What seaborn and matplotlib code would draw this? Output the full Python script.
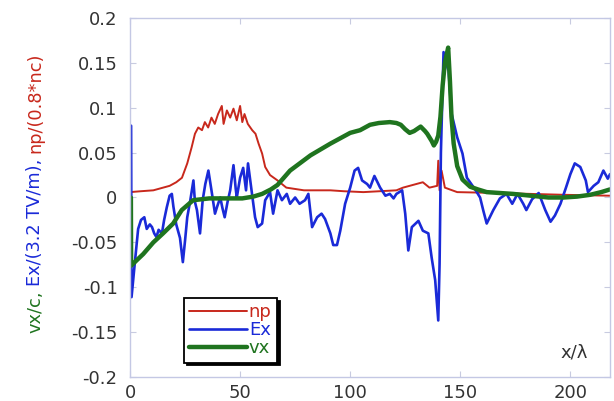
import numpy as np
import pandas as pd
import matplotlib
matplotlib.use("Agg")
import matplotlib.pyplot as plt
import seaborn as sns

# ---------------- data ----------------
np_x = [0, 5, 10.6, 18, 21, 23.6, 26, 28, 29.5, 31, 32.7, 34, 35.5, 37, 38.5, 40, 41.7, 42.5,
        44, 45.5, 47, 48.5, 50, 51, 52, 53.5, 55.5, 57, 58.4, 60, 61.4, 63.6, 67, 71, 79,
        91, 97, 106, 121, 124, 127, 130, 133, 136, 139.5, 140, 140.6, 141.5, 142.3, 143,
        148.6, 167, 197, 218]
np_y = [0.006, 0.007, 0.008, 0.013, 0.017, 0.022, 0.038, 0.056, 0.071, 0.078, 0.075, 0.084,
        0.078, 0.089, 0.082, 0.093, 0.102, 0.082, 0.097, 0.089, 0.099, 0.086, 0.102, 0.084,
        0.093, 0.082, 0.075, 0.071, 0.060, 0.049, 0.034, 0.025, 0.019, 0.011, 0.008, 0.008,
        0.007, 0.006, 0.008, 0.011, 0.013, 0.015, 0.017, 0.011, 0.013, 0.041, 0.008, 0.030,
        0.020, 0.011, 0.006, 0.005, 0.003, 0.002]

ex_x = [0.5, 0.7, 1.5, 2.3, 3.7, 5, 6.5, 7.6, 9, 10, 11, 12, 13, 14.5, 15.5, 16.7, 18, 19,
        19.7, 21, 22.7, 24, 25, 26, 27.4, 28.8, 29.5, 30.4, 31.8, 33, 34.2, 35.6, 37, 38.6,
        39.6, 41, 42, 43, 44.3, 45.5, 47, 48, 48.5, 50, 51.4, 52.7, 53.6, 55.4, 56.8, 58, 60,
        61.4, 63.6, 65, 67, 69, 71.2, 72.7, 75, 77, 79.5, 81, 82.7, 85, 87, 88.6, 91, 92.3,
        94, 95.5, 97.7, 100, 102, 103.6, 105.4, 107.7, 109, 111, 113.6, 116, 118, 119.7,
        121, 123.6, 125, 126.4, 128, 131, 133, 135.5, 137, 138.6, 140, 140.6, 141.2, 142.4,
        143.5, 144.7, 146, 148.6, 151, 153, 157, 159, 160.5, 162, 165, 168, 171, 173.6, 176,
        178.6, 180, 182.6, 185.6, 188.6, 191, 193, 195.5, 198, 200, 202, 204.5, 207, 208,
        210.6, 212.7, 215, 217, 218]
ex_y = [0.080, -0.111, -0.090, -0.070, -0.035, -0.025, -0.022, -0.035, -0.030, -0.033,
        -0.040, -0.044, -0.036, -0.040, -0.025, -0.011, 0.002, 0.004, -0.010, -0.030,
        -0.045, -0.072, -0.048, -0.022, -0.003, 0.019, -0.005, -0.014, -0.040, -0.003,
        0.015, 0.030, 0.008, -0.018, -0.010, 0.000, -0.012, -0.022, -0.005, 0.008, 0.036,
        0.010, 0.000, 0.022, 0.033, 0.008, 0.038, 0.004, -0.022, -0.033, -0.029, -0.003,
        0.006, -0.018, 0.008, -0.003, 0.004, -0.007, 0.000, -0.007, -0.003, 0.004, -0.033,
        -0.022, -0.018, -0.024, -0.040, -0.053, -0.053, -0.037, -0.007, 0.011, 0.030, 0.033,
        0.019, 0.015, 0.011, 0.024, 0.011, 0.002, 0.004, -0.001, 0.004, 0.008, -0.018,
        -0.059, -0.033, -0.026, -0.037, -0.040, -0.067, -0.092, -0.137, -0.074, 0.050,
        0.162, 0.150, 0.141, 0.094, 0.067, 0.049, 0.022, 0.008, 0.000, -0.015, -0.029,
        -0.014, -0.001, 0.004, -0.007, 0.004, -0.007, -0.014, -0.002, 0.005, -0.014,
        -0.027, -0.020, -0.007, 0.011, 0.026, 0.038, 0.034, 0.019, 0.006, 0.013, 0.017,
        0.030, 0.021, 0.026]

vx_x = [0.4, 0.5, 3, 6, 10.6, 15, 19.6, 23.5, 28.7, 36, 45, 51, 56, 60, 64, 67, 72.7, 82,
        91, 100, 104.5, 109, 113, 118, 121, 123, 125, 127, 129, 132, 134, 135, 137, 138,
        139, 140, 141, 142, 143, 144.5, 145.3, 146, 147, 148.6, 151, 154.5, 158, 162, 168,
        174, 182, 190, 197, 203, 209, 214, 218]
vx_y = [0.0, -0.076, -0.070, -0.063, -0.050, -0.040, -0.029, -0.014, -0.003, -0.001,
        -0.001, -0.001, 0.001, 0.004, 0.009, 0.014, 0.030, 0.047, 0.060, 0.072, 0.075,
        0.081, 0.083, 0.084, 0.083, 0.081, 0.076, 0.072, 0.074, 0.079, 0.074, 0.071, 0.063,
        0.058, 0.062, 0.069, 0.090, 0.125, 0.150, 0.167, 0.130, 0.090, 0.060, 0.035, 0.020,
        0.012, 0.009, 0.006, 0.005, 0.004, 0.002, 0.000, 0.000, 0.001, 0.003, 0.006, 0.009]

series_names = ["np", "Ex", "vx"]
x_ticks = [0, 50, 100, 150, 200]
y_ticks = [-0.2, -0.15, -0.1, -0.05, 0, 0.05, 0.1, 0.15, 0.2]
y_tick_labels = ["-0.2", "-0.15", "-0.1", "-0.05", "0", "0.05", "0.1", "0.15", "0.2"]

RED, BLUE, GREEN = "#c8281c", "#1a2ad8", "#1f741f"

# ---------------- plotting ----------------
sns.set_theme(style="white")
plt.rcParams["font.family"] = ["DejaVu Sans"]

fig = plt.figure(figsize=(6.14, 4.01), dpi=100)
ax = fig.add_axes([130 / 614, 1 - 377 / 401, 480 / 614, 359 / 401])

df_np = pd.DataFrame({"x": np_x, "y": np_y})
df_ex = pd.DataFrame({"x": ex_x, "y": ex_y})
df_vx = pd.DataFrame({"x": vx_x, "y": vx_y})

sns.lineplot(data=df_np, x="x", y="y", ax=ax, color=RED, lw=1.4, estimator=None,
             sort=False, label=series_names[0])
sns.lineplot(data=df_ex, x="x", y="y", ax=ax, color=BLUE, lw=1.9, estimator=None,
             sort=False, label=series_names[1])
sns.lineplot(data=df_vx, x="x", y="y", ax=ax, color=GREEN, lw=3.2, estimator=None,
             sort=False, label=series_names[2])

ax.set_xlim(0, 218)
ax.set_ylim(-0.2, 0.2)
ax.set_xticks(x_ticks)
ax.set_xticklabels([str(t) for t in x_ticks])
ax.set_yticks(y_ticks)
ax.set_yticklabels(y_tick_labels)
ax.set_xlabel("")
ax.set_ylabel("")
ax.tick_params(direction="in", length=4, width=0.8, color="#c8cbe0",
               labelsize=13, labelcolor="#333333", top=True, right=True,
               bottom=True, left=True)
ax.tick_params(axis="y", pad=9)
ax.tick_params(axis="x", pad=5)
for sp in ax.spines.values():
    sp.set_color("#c4c8e4")
    sp.set_linewidth(1.0)

leg = ax.legend(loc="lower left", bbox_to_anchor=(0.112, 0.04), fancybox=False,
                framealpha=1, edgecolor="black", fontsize=13, labelcolor="linecolor",
                handlelength=3.2, handletextpad=0.1, borderpad=0.3,
                labelspacing=0.0, borderaxespad=0,
                shadow={"color": "black", "alpha": 1})
leg.get_frame().set_linewidth(1.3)

ax.text(0.925, 0.067, "x/\u03bb", transform=ax.transAxes, fontsize=13,
        color="#333333", ha="center", va="center")

# multi-coloured y label
fig.canvas.draw()
renderer = fig.canvas.get_renderer()
parts = [("vx/c,", GREEN), ("Ex/(3.2 TV/m),", BLUE), ("np/(0.8*nc)", RED)]
ypos = 1 - 333 / 401
xpos = 35 / 614
gap = 5 / 401
for s, c in parts:
    t = fig.text(xpos, ypos, s, rotation=90, va="bottom", ha="center", color=c,
                 fontsize=12.8)
    bb = t.get_window_extent(renderer)
    ypos += bb.height / fig.bbox.height + gap

fig.savefig("out.png", dpi=100)
